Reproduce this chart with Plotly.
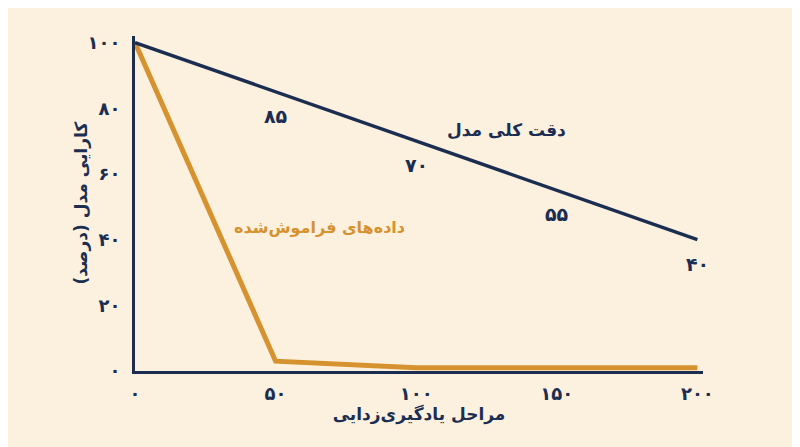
import plotly.graph_objects as go

# مراحل یادگیری‌زدایی
steps = [0, 50, 100, 150, 200]
# دقت کلی مدل (درصد)
overall_acc = [100, 85, 70, 55, 40]
# داده‌های فراموش‌شده (درصد)
forgotten = [100, 3, 1, 1, 1]

acc_labels = ["۱۰۰", "۸۵", "۷۰", "۵۵", "۴۰"]
x_ticks = [0, 50, 100, 150, 200]
x_ticktext = ["۰", "۵۰", "۱۰۰", "۱۵۰", "۲۰۰"]
y_ticks = [0, 20, 40, 60, 80, 100]
y_ticktext = ["۰", "۲۰", "۴۰", "۶۰", "۸۰", "۱۰۰"]

NAVY = "#1b2e52"
ORANGE = "#d6922e"
BG = "#fcf1df"
FONT = "DejaVu Sans"

fig = go.Figure()

fig.add_trace(go.Scatter(
    x=steps, y=forgotten, mode="lines",
    line=dict(color=ORANGE, width=5),
    hoverinfo="skip", showlegend=False,
))
fig.add_trace(go.Scatter(
    x=steps, y=overall_acc, mode="lines",
    line=dict(color=NAVY, width=3.5),
    hoverinfo="skip", showlegend=False,
))

# برچسب مقادیر زیر خط دقت
for xv, yv, lab in zip(steps[1:], overall_acc[1:], acc_labels[1:]):
    fig.add_annotation(
        x=xv, y=yv, text=lab, showarrow=False, yshift=-24,
        font=dict(family=FONT, size=19, color=NAVY, weight="bold"),
    )

# نام سری‌ها
fig.add_annotation(
    x=132, y=73.5, text="دقت کلی مدل", showarrow=False,
    font=dict(family=FONT, size=17, color=NAVY, weight="bold"),
)
fig.add_annotation(
    x=65.5, y=43.6, text="داده‌های فراموش‌شده", showarrow=False,
    font=dict(family=FONT, size=16, color=ORANGE, weight="bold"),
)

# عنوان محور عمودی
fig.add_annotation(
    xref="paper", yref="paper", x=0, y=0.5, xshift=-55,
    xanchor="center", yanchor="middle", textangle=-90,
    text="کارایی مدل (درصد)", showarrow=False,
    font=dict(family=FONT, size=17, color=NAVY, weight="bold"),
)

fig.update_layout(
    width=800, height=447,
    margin=dict(l=127, r=105, t=28, b=84),
    paper_bgcolor=BG, plot_bgcolor=BG,
    xaxis=dict(
        range=[0, 202], showgrid=False, zeroline=False,
        showline=True, linecolor=NAVY, linewidth=3,
        tickvals=x_ticks, ticktext=x_ticktext, ticks="",
        ticklabelstandoff=4,
        tickfont=dict(family=FONT, size=18, color=NAVY, weight="bold"),
        title=dict(text="مراحل یادگیری‌زدایی", standoff=4,
                   font=dict(family=FONT, size=17, color=NAVY, weight="bold")),
    ),
    yaxis=dict(
        range=[0, 102], showgrid=False, zeroline=False,
        showline=True, linecolor=NAVY, linewidth=3,
        tickvals=y_ticks, ticktext=y_ticktext, ticks="",
        ticklabelstandoff=8,
        tickfont=dict(family=FONT, size=18, color=NAVY, weight="bold"),
    ),
)

fig.write_html("out.html")
